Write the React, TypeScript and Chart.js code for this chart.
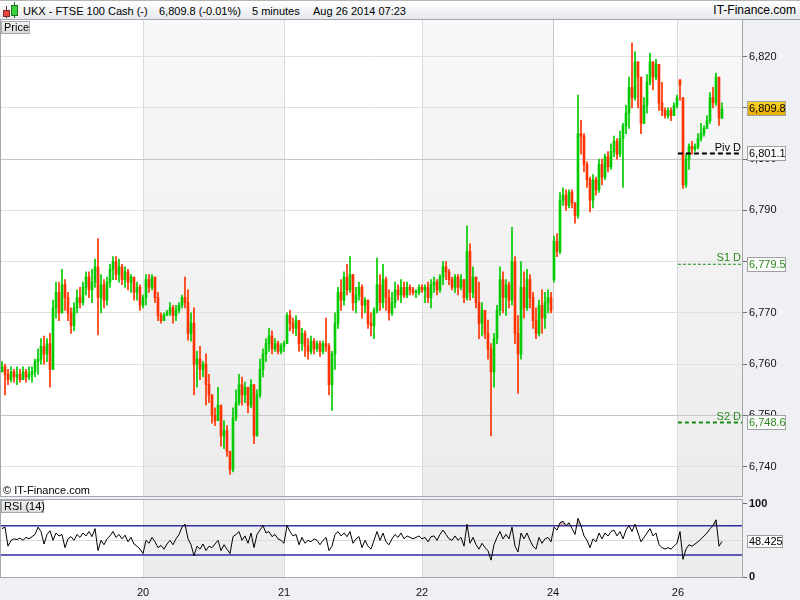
import React, { useEffect, useRef } from 'react';
import { Chart, registerables } from 'chart.js';

Chart.register(...registerables);

const FONT = '"Liberation Sans", Arial, Helvetica, sans-serif';

// ---------------- data (5-minute candles) ----------------
const opens = [
  6758.5, 6759.5, 6758, 6757, 6758.5, 6757.5, 6758, 6757, 6758.5, 6757.5,
  6758, 6758.5, 6760.5, 6761, 6763.5, 6762, 6764, 6759, 6771, 6774,
  6770, 6775.5, 6773, 6770, 6767.5, 6771, 6773, 6772, 6775, 6777,
  6774.5, 6776, 6779, 6773, 6775.5, 6772.5, 6776, 6778.5, 6780, 6777.5,
  6779, 6776.5, 6778, 6776, 6777, 6774, 6775, 6771.5,
  6773, 6776.5, 6775, 6777, 6773, 6769.5, 6768.5, 6769.5, 6770, 6771,
  6769.5, 6770.5, 6771.5, 6773, 6772, 6766, 6768, 6760, 6761, 6759,
  6760, 6756, 6754, 6750, 6749, 6752, 6746, 6747, 6743, 6739.5,
  6749.5, 6752.5, 6756, 6754, 6755.5, 6752, 6756, 6746, 6754, 6759,
  6762, 6764, 6765.5, 6763, 6764, 6762.5, 6763.5,
  6764, 6769.5, 6768, 6767, 6768.5, 6764, 6766, 6763.5, 6762.5, 6764.5,
  6763, 6764, 6762.5, 6764, 6763.5, 6756, 6762, 6768, 6774, 6772.5,
  6777, 6774.5, 6777.5, 6772, 6773.5, 6775, 6771.5, 6772.5, 6768, 6767.5,
  6770.5, 6775.5, 6772, 6776.5, 6773, 6770, 6772, 6774.5, 6773.5, 6775,
  6773.5, 6775, 6774.5, 6774, 6774, 6775,
  6774.5, 6775, 6773, 6775.5, 6776, 6774.5, 6777, 6779, 6778, 6776.5,
  6775, 6777, 6775, 6776.5, 6773, 6782, 6774, 6777, 6772, 6768,
  6770.5, 6766, 6763, 6758.5, 6765, 6770.5, 6776.5, 6773, 6775.5, 6772.5,
  6780, 6766, 6762, 6775, 6771, 6776.5, 6773, 6768.5, 6766, 6771.5,
  6769, 6772, 6773,
  6776.5, 6784, 6782, 6792, 6793, 6791, 6793.5, 6791.5, 6789, 6805,
  6804.5, 6799, 6796, 6792, 6796, 6794, 6799, 6796.5, 6800.5, 6798.5,
  6801.5, 6803.5, 6801, 6804, 6806.5, 6809, 6814, 6812, 6819, 6816,
  6807, 6810.5, 6815, 6819, 6816, 6818.5, 6811, 6809.5, 6808.5, 6809.5, 6808.5, 6810.5,
  6815.5, 6812, 6795, 6800, 6802.5, 6802, 6802.5, 6804, 6805, 6806, 6807.5, 6812, 6811, 6816, 6808,
];

const highs = [
  6760.5, 6760, 6759, 6759.5, 6759, 6759.5, 6759, 6759.5, 6759, 6759.5,
  6759.5, 6761, 6763, 6765, 6765.5, 6765, 6766, 6772.5, 6776, 6776,
  6778.5, 6776.5, 6774, 6771, 6772, 6774.5, 6775, 6776, 6778, 6778,
  6778.5, 6780.5, 6784.5, 6777.5, 6776.5, 6777, 6779.5, 6781, 6781, 6780.5,
  6779.5, 6779, 6778.5, 6777.5, 6777, 6776, 6775.5, 6773.5,
  6777.5, 6777.5, 6777.5, 6776, 6774, 6770, 6770, 6770.5, 6772, 6771.5,
  6771.5, 6772, 6773.5, 6777, 6774.5, 6770, 6771, 6762.5, 6763.5, 6760.5,
  6762, 6758, 6752, 6751.5, 6755.5, 6750, 6749, 6748, 6742, 6751.5,
  6755, 6758, 6757.5, 6756.5, 6755.5, 6757, 6755, 6755, 6761, 6763,
  6765, 6767, 6766.5, 6765, 6764.5, 6764, 6764.5,
  6770, 6770.5, 6769, 6769.5, 6768.5, 6767, 6766.5, 6765, 6765.5, 6765,
  6764.5, 6764.5, 6764.5, 6769, 6764, 6762.5, 6770, 6775, 6776.5, 6778,
  6779.5, 6781, 6777.5, 6775, 6776, 6775.5, 6773, 6772.5, 6770, 6771,
  6780.7, 6777.5, 6779.5, 6777, 6774.5, 6774, 6776, 6775.5, 6776.5, 6776,
  6776, 6775.5, 6775, 6774.5, 6775.5, 6775.5,
  6775.5, 6776, 6776.5, 6777, 6776.5, 6777.5, 6780, 6780, 6778.5, 6777,
  6777.5, 6777.5, 6777.5, 6776.5, 6787, 6783.5, 6779, 6777, 6776, 6772,
  6770.5, 6768.6, 6764, 6766, 6771.5, 6779, 6778, 6776.5, 6776, 6786.7,
  6781, 6769.5, 6780, 6778, 6778.5, 6777.5, 6774, 6771, 6772.5, 6774.5,
  6774, 6774.5, 6774,
  6785, 6785.5, 6793.5, 6794.4, 6794, 6794, 6794, 6791.5, 6812.5, 6807.6,
  6805, 6799.5, 6796.5, 6797, 6796.5, 6800, 6800, 6801, 6801.5, 6803,
  6804.5, 6804, 6805.5, 6807, 6810.5, 6816, 6822.7, 6821, 6819, 6812.5,
  6812, 6816.5, 6820.7, 6818.5, 6819.5, 6818.5, 6815, 6810, 6810, 6810, 6811, 6812.5,
  6815, 6812, 6801, 6803, 6803.5, 6803, 6805, 6807, 6806.5, 6808.5, 6813, 6814, 6816.8, 6815, 6811,
];

const lows = [
  6758.5, 6754, 6756, 6756.5, 6756.5, 6756, 6756.5, 6757, 6756.5, 6757,
  6756.5, 6757.5, 6758, 6760, 6760, 6760.5, 6755.5, 6762, 6769, 6768.5,
  6771, 6770.5, 6768.5, 6766, 6766.5, 6770, 6771, 6771.5, 6773.5, 6773,
  6772, 6775, 6765.7, 6770, 6771, 6771.5, 6775, 6776.5, 6776.5, 6776,
  6775.5, 6775, 6774.5, 6774, 6772.5, 6772.5, 6770.5, 6771,
  6771.5, 6774, 6774.5, 6772, 6768.5, 6768, 6768.5, 6769.5, 6769.5, 6768,
  6768.5, 6770, 6771, 6771, 6764.7, 6764.5, 6754, 6755.5, 6757, 6757.5,
  6752, 6752.5, 6748.5, 6748, 6749.5, 6744, 6743.5, 6742, 6738.5, 6739,
  6749, 6752, 6752, 6752.5, 6750.5, 6751.5, 6744.5, 6746, 6753.5, 6757.5,
  6760.5, 6762.5, 6762, 6762.5, 6762, 6762, 6762.5,
  6764, 6766.5, 6766, 6765.5, 6762.5, 6762.7, 6761.5, 6761, 6762, 6762,
  6762.5, 6761.5, 6762, 6762.5, 6754, 6751, 6759, 6767, 6770.5, 6771.5,
  6773.5, 6774, 6770.5, 6770, 6772.5, 6769, 6770, 6767, 6765.5, 6765,
  6770, 6770.5, 6771, 6770.5, 6768.6, 6769.5, 6771, 6772.5, 6772, 6773,
  6773, 6773.5, 6773.5, 6773, 6773.5, 6774,
  6772, 6772, 6771, 6774, 6773.5, 6774, 6775.5, 6776.5, 6775.5, 6774.5,
  6774, 6773.5, 6774.5, 6772, 6772.5, 6772.5, 6773, 6771, 6765, 6765.5,
  6765, 6761, 6746, 6755.5, 6764, 6769.5, 6770, 6769.5, 6771, 6771.5,
  6764, 6754.3, 6761, 6769, 6770.5, 6771, 6767, 6765, 6765.5, 6766,
  6767, 6770, 6770,
  6776, 6781, 6781.5, 6791, 6790, 6790.5, 6790.5, 6787.5, 6788.5, 6801,
  6797.5, 6794.5, 6789.7, 6790.5, 6793, 6793.5, 6795, 6796, 6797.5, 6798,
  6800.5, 6800, 6800.5, 6794.5, 6805, 6806, 6810, 6811.5, 6810, 6805,
  6807, 6809, 6814.5, 6813.5, 6815.5, 6809.5, 6808.5, 6808, 6808, 6807.5, 6808.5, 6810,
  6811.5, 6794.3, 6794.5, 6798, 6801, 6801.5, 6802, 6803.5, 6804.5, 6806, 6807, 6810, 6810.5, 6806.6, 6808,
];

const closes = [
  6759.5, 6758, 6757, 6758.5, 6757.5, 6758, 6757, 6758.5, 6757.5, 6758,
  6758.5, 6760.5, 6761, 6763.5, 6762, 6764, 6759, 6771, 6774, 6770,
  6775.5, 6773, 6770, 6767.5, 6771, 6773, 6772, 6775, 6777, 6774.5,
  6776, 6779, 6773, 6775.5, 6772.5, 6776, 6778.5, 6780, 6777.5, 6779,
  6776.5, 6778, 6776, 6777, 6774, 6775, 6771.5, 6773,
  6776.5, 6775, 6777, 6773, 6769.5, 6768.5, 6769.5, 6770, 6771, 6769.5,
  6770.5, 6771.5, 6773, 6772, 6766, 6768, 6760, 6761, 6759, 6760,
  6756, 6754, 6750, 6749, 6752, 6746, 6747, 6743, 6739.5, 6749.5,
  6752.5, 6756, 6754, 6755.5, 6752, 6756, 6746, 6754, 6759, 6762,
  6764, 6765.5, 6763, 6764, 6762.5, 6763.5, 6764,
  6769.5, 6768, 6767, 6768.5, 6764, 6766, 6763.5, 6762.5, 6764.5, 6763,
  6764, 6762.5, 6764, 6763.5, 6756, 6762, 6768, 6774, 6772.5, 6777,
  6774.5, 6777.5, 6772, 6773.5, 6775, 6771.5, 6772.5, 6768, 6767.5, 6770.5,
  6775.5, 6772, 6776.5, 6773, 6770, 6772, 6774.5, 6773.5, 6775, 6773.5,
  6775, 6774.5, 6774, 6774, 6775, 6774.5,
  6775, 6773, 6775.5, 6776, 6774.5, 6777, 6779, 6778, 6776.5, 6775,
  6777, 6775, 6776.5, 6773, 6782, 6774, 6777, 6772, 6768, 6770.5,
  6766, 6763, 6758.5, 6765, 6770.5, 6776.5, 6773, 6775.5, 6772.5, 6780,
  6766, 6762, 6775, 6771, 6776.5, 6773, 6768.5, 6766, 6771.5, 6769,
  6772, 6773, 6770.5,
  6784, 6782, 6792, 6793, 6791, 6793.5, 6791.5, 6789, 6805, 6804.5,
  6799, 6796, 6792, 6796, 6794, 6799, 6796.5, 6800.5, 6798.5, 6801.5,
  6803.5, 6801, 6804, 6806.5, 6809, 6814, 6812, 6819, 6816, 6807,
  6810.5, 6815, 6819, 6816, 6818.5, 6811, 6809.5, 6808.5, 6809.5, 6808.5, 6810.5, 6812,
  6814.5, 6795, 6800, 6802.5, 6802, 6802.5, 6804, 6805, 6806, 6807.5, 6812, 6811, 6816, 6808, 6809.8,
];

const rsiValues = [
  66, 68, 42, 50, 52, 51, 53, 50, 54, 52,
  55, 58, 68, 62, 45, 58, 63, 50, 60, 56,
  58, 40, 52, 55, 50, 58, 54, 60, 56, 62,
  55, 66, 36, 50, 44, 52, 56, 62, 54, 58,
  52, 57, 48, 54, 45, 42, 38, 32,
  50, 46, 54, 48, 40, 43, 38, 45, 50, 44,
  52, 58, 68, 72, 52, 44, 29, 42, 38, 45,
  36, 42, 40, 45, 50, 36, 44, 38, 32, 55,
  58, 62, 50, 56, 46, 60, 40, 58, 64, 70,
  60, 62, 55, 58, 52, 50, 46,
  70, 62, 56, 58, 44, 54, 46, 50, 48, 52,
  50, 44, 50, 54, 36, 42, 58, 62, 56, 60,
  55, 62, 46, 52, 55, 40, 50, 42, 38, 50,
  62, 50, 60, 48, 44, 52, 58, 54, 60, 52,
  56, 54, 52, 54, 56, 52,
  54, 48, 55, 56, 50, 58, 64, 58, 52, 50,
  56, 50, 54, 42, 72, 46, 54, 44, 38, 46,
  40, 36, 23, 44, 54, 62, 52, 58, 52, 68,
  42, 34, 60, 52, 60, 50, 42, 38, 54, 46,
  52, 54, 48,
  68, 64, 74, 76, 70, 74, 66, 58, 80, 70,
  56, 50, 40, 52, 48, 60, 52, 60, 56, 62,
  64, 56, 62, 52, 64, 70, 62, 72, 60, 48,
  54, 60, 66, 56, 60, 44, 40, 38, 40, 38, 42, 46,
  62, 24, 38, 44, 42, 45, 48, 52, 56, 60, 66, 70, 78, 42, 48.425,
];

// day boundaries, in candle-index units, and their labels
const dayStarts = [47, 94, 140, 183.7, 225.3];
const dayLabels = ['20', '21', '22', '24', '26'];

const priceTicks = [6740, 6750, 6760, 6770, 6780, 6790, 6800, 6810, 6820];
const rsiTicks = [0, 50, 100];
const rsiBands = [70, 30];

const pivotNames = ['Piv D', 'S1 D', 'S2 D'];
const pivotValues = [6801.1, 6779.5, 6748.6];

const lastPrice = 6809.8;
const lastRsi = 48.425;

// ---------------- styles ----------------
const UP = '#00cc00';
const DOWN = '#ff3300';
const PIVOT_STYLE = [
  { text: '#000000', line: '#000000', width: 2, dash: [5, 3] },
  { text: '#2b8a1e', line: '#138a13', width: 1, dash: [3, 2] },
  { text: '#2b8a1e', line: '#138a13', width: 2, dash: [4, 3] },
];
const X_MIN = -1 / 3;
const X_MAX = 247 - 1 / 3;
const PRICE_MIN = 6734.28;
const PRICE_MAX = 6827.16;
const RSI_MIN = 0;
const RSI_MAX = 105;

const fmt = (v: number, d: number) =>
  v.toLocaleString('en-US', { minimumFractionDigits: d, maximumFractionDigits: d });

function drawBands(chart: any, c0: string, c1: string) {
  const { ctx, chartArea: a, scales } = chart;
  const x = scales.x;
  ctx.save();
  ctx.fillStyle = '#ffffff';
  ctx.fillRect(a.left, a.top, a.right - a.left, a.bottom - a.top);
  const g = ctx.createLinearGradient(0, a.top, 0, a.bottom);
  g.addColorStop(0, c0);
  g.addColorStop(1, c1);
  ctx.fillStyle = g;
  for (let k = 0; k < dayStarts.length; k += 2) {
    const x0 = Math.round(x.getPixelForValue(dayStarts[k]));
    const x1 = k + 1 < dayStarts.length ? Math.round(x.getPixelForValue(dayStarts[k + 1])) : a.right;
    ctx.fillRect(x0, a.top, x1 - x0, a.bottom - a.top);
  }
  ctx.restore();
}

function drawFrame(chart: any) {
  const { ctx, chartArea: a } = chart;
  ctx.save();
  ctx.strokeStyle = '#a3a8ae';
  ctx.lineWidth = 1;
  ctx.strokeRect(a.left - 0.5, a.top - 0.5, a.right - a.left + 1, a.bottom - a.top + 1);
  ctx.restore();
}

function drawValueBox(ctx: CanvasRenderingContext2D, y: number, text: string, bg: any, fg: string, x: number, w: number, h: number) {
  const top = Math.round(y - h / 2);
  ctx.save();
  ctx.fillStyle = bg;
  ctx.fillRect(x, top, w, h);
  ctx.strokeStyle = '#a0a0a0';
  ctx.lineWidth = 1;
  ctx.strokeRect(x + 0.5, top + 0.5, w - 1, h - 1);
  ctx.fillStyle = fg;
  ctx.font = `11px ${FONT}`;
  ctx.textAlign = 'left';
  ctx.textBaseline = 'middle';
  ctx.fillText(text, x + 2, top + h / 2 + 0.5);
  ctx.restore();
}

const idx = closes.map((_, i) => i);
const candleColors = idx.map((i) => (closes[i] >= opens[i] ? UP : DOWN));

function mainConfig(): any {
  const wickData = idx.map((i) => ({
    x: i,
    y: [Math.min(lows[i], opens[i], closes[i]), Math.max(highs[i], opens[i], closes[i])],
  }));
  const bodyData = idx.map((i) => ({ x: i, y: [opens[i], closes[i]] }));
  const pivotSets = pivotValues.map((v, k) => ({
    type: 'line',
    data: [
      { x: dayStarts[dayStarts.length - 1], y: v },
      { x: X_MAX, y: v },
    ],
    borderColor: PIVOT_STYLE[k].line,
    borderWidth: PIVOT_STYLE[k].width,
    borderDash: PIVOT_STYLE[k].dash,
    pointRadius: 0,
    fill: false,
    order: 0,
  }));

  const decor = {
    id: 'mainDecor',
    beforeDraw(chart: any) {
      drawBands(chart, '#f8f8f8', '#ececec');
    },
    afterDraw(chart: any) {
      const { ctx, chartArea: a, scales } = chart;
      const y = scales.y;
      drawFrame(chart);
      ctx.save();
      ctx.font = `11px ${FONT}`;
      ctx.textAlign = 'right';
      ctx.textBaseline = 'alphabetic';
      pivotNames.forEach((name, k) => {
        ctx.fillStyle = PIVOT_STYLE[k].text;
        ctx.fillText(name, a.right - 1, Math.round(y.getPixelForValue(pivotValues[k])) - 3);
      });
      ctx.restore();
      pivotValues.forEach((v, k) => {
        drawValueBox(ctx, y.getPixelForValue(v), fmt(v, 1), '#fbfbfb', PIVOT_STYLE[k].text, 747, 39, 15);
      });
      const ly = y.getPixelForValue(lastPrice);
      const g = ctx.createLinearGradient(0, ly - 8, 0, ly + 8);
      g.addColorStop(0, '#fad52a');
      g.addColorStop(1, '#e6a800');
      drawValueBox(ctx, ly, fmt(lastPrice, 1), g, '#000000', 747, 39, 15);
    },
  };

  return {
    type: 'bar',
    data: {
      datasets: [
        {
          type: 'bar',
          data: wickData,
          backgroundColor: candleColors,
          barThickness: 1,
          grouped: false,
          order: 2,
        },
        {
          type: 'bar',
          data: bodyData,
          backgroundColor: candleColors,
          barThickness: 2,
          minBarLength: 1,
          grouped: false,
          order: 1,
        },
        ...pivotSets,
      ],
    },
    options: {
      animation: false,
      responsive: false,
      maintainAspectRatio: false,
      events: [],
      layout: { padding: { left: 1, top: 1, bottom: 1, right: 0 } },
      plugins: { legend: { display: false }, tooltip: { enabled: false } },
      scales: {
        x: {
          type: 'linear',
          min: X_MIN,
          max: X_MAX,
          offset: false,
          afterBuildTicks: (s: any) => {
            s.ticks = dayStarts.map((v) => ({ value: v }));
          },
          afterFit: (s: any) => {
            s.height = 0;
            s.paddingLeft = 0;
            s.paddingRight = 0;
          },
          ticks: { display: false },
          border: { display: false },
          grid: {
            offset: false,
            drawTicks: false,
            color: (c: any) => (c.index === 3 ? '#cacaca' : '#dadada'),
          },
        },
        y: {
          type: 'linear',
          position: 'right',
          min: PRICE_MIN,
          max: PRICE_MAX,
          beginAtZero: false,
          afterBuildTicks: (s: any) => {
            s.ticks = priceTicks.map((v) => ({ value: v }));
          },
          afterFit: (s: any) => {
            s.width = 58;
            s.paddingTop = 0;
            s.paddingBottom = 0;
          },
          ticks: {
            callback: (v: number) => fmt(v, 0),
            font: { family: FONT, size: 11 },
            color: '#111111',
            padding: 2,
          },
          border: { display: false },
          grid: {
            color: (c: any) => (c.tick && c.tick.value % 50 === 0 ? '#c6c6c6' : '#e0e0e0'),
            tickColor: '#6f6f6f',
            tickLength: 5,
            drawTicks: true,
          },
        },
      },
    },
    plugins: [decor],
  };
}

function rsiConfig(): any {
  const decor = {
    id: 'rsiDecor',
    beforeDraw(chart: any) {
      drawBands(chart, '#f1f1f1', '#ececec');
    },
    afterDraw(chart: any) {
      const { ctx, scales } = chart;
      drawFrame(chart);
      drawValueBox(ctx, scales.y.getPixelForValue(lastRsi), String(lastRsi), '#fbfbfb', '#000000', 747, 36, 13);
    },
  };
  return {
    type: 'line',
    data: {
      datasets: [
        {
          data: idx.map((i) => ({ x: i, y: rsiValues[i] })),
          borderColor: '#000000',
          borderWidth: 1,
          pointRadius: 0,
          tension: 0,
          fill: { target: { value: 70 }, above: 'rgba(170,115,115,0.55)', below: 'rgba(0,0,0,0)' },
          order: 1,
        },
        ...rsiBands.map((b) => ({
          data: [
            { x: X_MIN, y: b },
            { x: X_MAX, y: b },
          ],
          borderColor: '#2d2da0',
          borderWidth: 1.5,
          pointRadius: 0,
          fill: false,
          order: 2,
        })),
      ],
    },
    options: {
      animation: false,
      responsive: false,
      maintainAspectRatio: false,
      events: [],
      layout: { padding: { left: 1, top: 1, bottom: 0, right: 0 } },
      plugins: { legend: { display: false }, tooltip: { enabled: false } },
      scales: {
        x: {
          type: 'linear',
          min: X_MIN,
          max: X_MAX,
          offset: false,
          afterBuildTicks: (s: any) => {
            s.ticks = dayStarts.map((v) => ({ value: v }));
          },
          afterFit: (s: any) => {
            s.height = 23;
            s.paddingLeft = 0;
            s.paddingRight = 0;
          },
          ticks: {
            callback: (_v: number, i: number) => dayLabels[i],
            font: { family: FONT, size: 11 },
            color: '#111111',
            padding: 9,
            maxRotation: 0,
            autoSkip: false,
          },
          border: { display: false },
          grid: {
            offset: false,
            drawTicks: false,
            color: (c: any) => (c.index === 3 ? '#cacaca' : '#dadada'),
          },
        },
        y: {
          type: 'linear',
          position: 'right',
          min: RSI_MIN,
          max: RSI_MAX,
          afterBuildTicks: (s: any) => {
            s.ticks = rsiTicks.map((v) => ({ value: v }));
          },
          afterFit: (s: any) => {
            s.width = 58;
            s.paddingTop = 0;
            s.paddingBottom = 0;
          },
          ticks: {
            callback: (v: number) => (v === 50 ? '' : String(v)),
            font: { family: FONT, size: 11, weight: 'bold' },
            color: '#111111',
            padding: 2,
          },
          border: { display: false },
          grid: {
            color: (c: any) => (c.tick && c.tick.value === 50 ? '#dcdcdc' : 'rgba(0,0,0,0)'),
            tickColor: (c: any) => (c.tick && c.tick.value === 50 ? 'rgba(0,0,0,0)' : '#6f6f6f'),
            tickLength: 5,
            drawTicks: true,
          },
        },
      },
    },
    plugins: [decor],
  };
}

const txt: React.CSSProperties = {
  position: 'absolute',
  fontSize: 11,
  lineHeight: '13px',
  whiteSpace: 'pre',
  color: '#000',
};

export default function App() {
  const mainRef = useRef<HTMLCanvasElement>(null);
  const rsiRef = useRef<HTMLCanvasElement>(null);

  useEffect(() => {
    document.body.style.margin = '0';
    const main = new Chart(mainRef.current as HTMLCanvasElement, mainConfig());
    const rsi = new Chart(rsiRef.current as HTMLCanvasElement, rsiConfig());
    return () => {
      main.destroy();
      rsi.destroy();
    };
  }, []);

  return (
    <div
      style={{
        position: 'absolute',
        left: 0,
        top: 0,
        width: 800,
        height: 600,
        overflow: 'hidden',
        background: '#eef0f3',
        fontFamily: FONT,
      }}
    >
      {/* header */}
      <div
        style={{
          position: 'absolute',
          left: 0,
          top: 0,
          width: 800,
          height: 20,
          boxSizing: 'border-box',
          borderTop: '1px solid #b4b4b4',
          borderBottom: '1px solid #9c9c9c',
          background: 'linear-gradient(#ffffff, #e5e8ec)',
        }}
      />
      <div style={{ position: 'absolute', left: 6, top: 6, width: 1, height: 12, background: '#6a2a2a' }} />
      <div
        style={{
          position: 'absolute',
          left: 3,
          top: 10,
          width: 7,
          height: 7,
          boxSizing: 'border-box',
          border: '1px solid #7a2a2a',
          background: '#e8453c',
        }}
      />
      <div style={{ position: 'absolute', left: 14, top: 2, width: 1, height: 16, background: '#1e6a1e' }} />
      <div
        style={{
          position: 'absolute',
          left: 11,
          top: 5,
          width: 7,
          height: 11,
          boxSizing: 'border-box',
          border: '1px solid #1e6e1e',
          background: '#3ad23a',
        }}
      />
      <span style={{ ...txt, left: 23, top: 5 }}>UKX - FTSE 100 Cash (-)</span>
      <span style={{ ...txt, left: 159, top: 5 }}>6,809.8 (-0.01%)</span>
      <span style={{ ...txt, left: 252, top: 5 }}>5 minutes</span>
      <span style={{ ...txt, left: 313, top: 5 }}>Aug 26 2014 07:23</span>
      <span style={{ ...txt, right: 4, top: 4, fontSize: 12 }}>IT-Finance.com</span>

      <canvas
        ref={mainRef}
        width={800}
        height={478}
        style={{ position: 'absolute', left: 0, top: 19, width: 800, height: 478 }}
      />
      <canvas
        ref={rsiRef}
        width={800}
        height={101}
        style={{ position: 'absolute', left: 0, top: 499, width: 800, height: 101 }}
      />

      {/* panel captions */}
      <div
        style={{
          ...txt,
          left: 1,
          top: 21,
          width: 29,
          height: 13,
          boxSizing: 'border-box',
          border: '1px solid #a8a8a8',
          background: 'linear-gradient(#f4f4f4, #dcdcdc)',
          lineHeight: '11px',
          paddingLeft: 2,
        }}
      >
        Price
      </div>
      <span style={{ ...txt, left: 3, top: 484 }}>© IT-Finance.com</span>
      <div
        style={{
          ...txt,
          left: 1,
          top: 500,
          width: 43,
          height: 13,
          boxSizing: 'border-box',
          border: '1px solid #a8a8a8',
          background: 'linear-gradient(#f4f4f4, #dcdcdc)',
          lineHeight: '11px',
          paddingLeft: 2,
        }}
      >
        RSI (14)
      </div>
    </div>
  );
}
